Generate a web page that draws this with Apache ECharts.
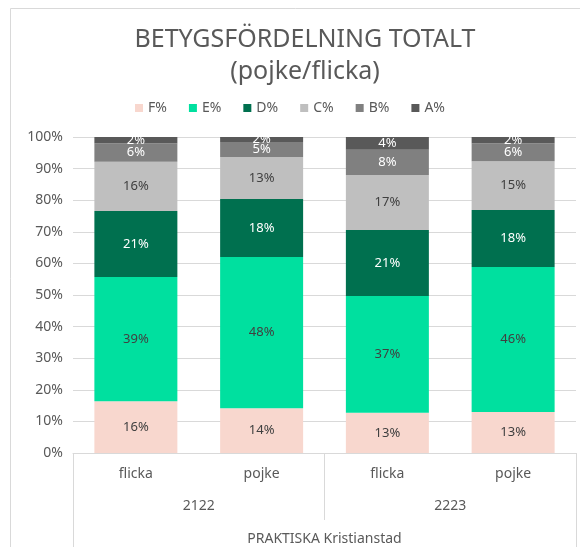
<!DOCTYPE html>
<html>
<head>
<meta charset="utf-8">
<script src="https://cdn.jsdelivr.net/npm/echarts@6/dist/echarts.min.js"></script>
<style>
  html, body { margin: 0; padding: 0; background: #fff; }
  #chart { width: 580px; height: 547px; }
</style>
</head>
<body>
<div id="chart"></div>
<script>
// data (share of each grade, %)
const kon = ['flicka', 'pojke', 'flicka', 'pojke'];
const lasar = ['2122', '2223'];
const skola = ['PRAKTISKA Kristianstad'];

const betygF = [16.4, 14.2, 12.7, 13.0];
const betygE = [39.3, 47.8, 37.0, 45.9];
const betygD = [20.9, 18.4, 20.9, 18.0];
const betygC = [15.6, 13.3, 17.4, 15.4];
const betygB = [5.8, 4.7, 8.0, 5.7];
const betygA = [2.0, 1.6, 4.0, 2.0];

const serier = [
  { name: 'F%', data: betygF, color: '#f8d7ce', text: '#404040' },
  { name: 'E%', data: betygE, color: '#00e09f', text: '#404040' },
  { name: 'D%', data: betygD, color: '#00704f', text: '#ffffff' },
  { name: 'C%', data: betygC, color: '#bfbfbf', text: '#404040' },
  { name: 'B%', data: betygB, color: '#808080', text: '#ffffff' },
  { name: 'A%', data: betygA, color: '#595959', text: '#ffffff' }
];

const font = 'Noto Sans';
const chart = echarts.init(document.getElementById('chart'));

chart.setOption({
  textStyle: { fontFamily: font },
  animation: false,
  title: {
    text: 'BETYGSFÖRDELNING TOTALT\n(pojke/flicka)',
    left: 300,
    textAlign: 'center',
    top: 19,
    textStyle: { fontSize: 25, fontWeight: 'normal', color: '#595959', lineHeight: 32, fontFamily: font }
  },
  legend: {
    top: 96,
    left: 'center',
    itemWidth: 8,
    itemHeight: 8,
    itemGap: 22,
    icon: 'rect',
    textStyle: { fontSize: 14, color: '#595959', fontFamily: font },
    data: serier.map(s => s.name)
  },
  graphic: [{
    type: 'rect',
    shape: { x: 10.5, y: 8.5, width: 600, height: 600 },
    style: { fill: 'none', stroke: '#d9d9d9', lineWidth: 1 },
    silent: true
  }],
  grid: { left: 73, right: 4, top: 137, bottom: 94, containLabel: false },
  xAxis: [
    {
      type: 'category',
      data: kon,
      position: 'bottom',
      axisLine: { lineStyle: { color: '#d9d9d9' } },
      axisTick: { show: false },
      axisLabel: { color: '#595959', fontSize: 14, margin: 14 }
    },
    {
      type: 'category',
      data: lasar,
      position: 'bottom',
      axisLine: { show: false },
      axisTick: { show: true, length: 67, inside: false, lineStyle: { color: '#d9d9d9' } },
      axisLabel: { color: '#595959', fontSize: 14, margin: 46 }
    },
    {
      type: 'category',
      data: skola,
      position: 'bottom',
      axisLine: { show: false },
      axisTick: { show: true, length: 100, lineStyle: { color: '#d9d9d9' } },
      axisLabel: { color: '#595959', fontSize: 14, margin: 79 }
    }
  ],
  yAxis: {
    type: 'value',
    min: 0,
    max: 100,
    interval: 10,
    axisLine: { show: false },
    axisTick: { show: false },
    axisLabel: { formatter: '{value}%', color: '#595959', fontSize: 14, margin: 10 },
    splitLine: { lineStyle: { color: '#d9d9d9' } }
  },
  series: serier.map(s => ({
    name: s.name,
    type: 'bar',
    stack: 'total',
    xAxisIndex: 0,
    barWidth: '66%',
    data: s.data,
    itemStyle: { color: s.color },
    label: {
      show: true,
      position: 'inside',
      color: s.text,
      fontSize: 13,
      fontFamily: font,
      formatter: p => Math.round(p.value) + '%'
    }
  }))
});
</script>
</body>
</html>
